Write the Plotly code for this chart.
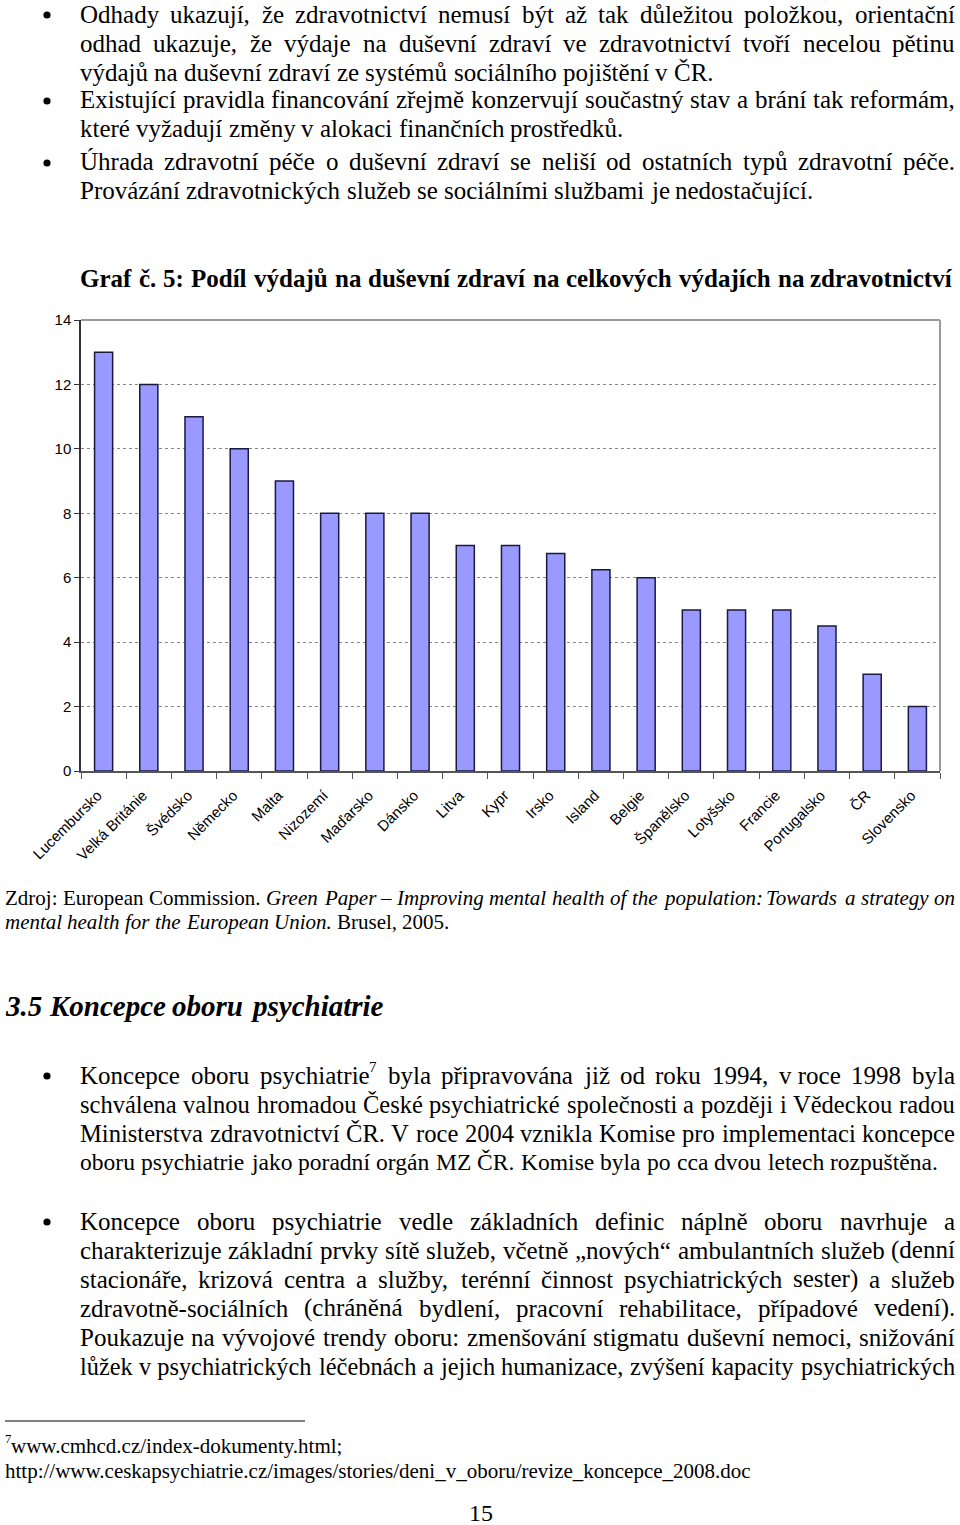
import re
import unicodedata
import plotly.graph_objects as go

# ---------------- data ----------------
countries = ["Lucembursko", "Velká Británie", "Švédsko", "Německo", "Malta", "Nizozemí",
             "Maďarsko", "Dánsko", "Litva", "Kypr", "Irsko", "Island", "Belgie",
             "Španělsko", "Lotyšsko", "Francie", "Portugalsko", "ČR", "Slovensko"]
shares = [13, 12, 11, 10, 9, 8, 8, 8, 7, 7, 6.75, 6.25, 6, 5, 5, 5, 4.5, 3, 2]
y_ticks = [0, 2, 4, 6, 8, 10, 12, 14]

chart_title = "Graf č. 5: Podíl výdajů na duševní zdraví na celkových výdajích na zdravotnictví"

# (text, right edge for justification or None, bullet)
block1 = [
    ("Odhady ukazují, že zdravotnictví nemusí být až tak důležitou položkou, orientační", 955, True),
    ("odhad ukazuje, že výdaje na duševní zdraví ve zdravotnictví tvoří necelou pětinu", 955, False),
    ("výdajů na duševní zdraví ze systémů sociálního pojištění v ČR.", None, False),
    ("Existující pravidla financování zřejmě konzervují součastný stav a brání tak reformám,", 955, True),
    ("které vyžadují změny v alokaci finančních prostředků.", None, False),
    ("Úhrada zdravotní péče o duševní zdraví se neliší od ostatních typů zdravotní péče.", 955, True),
    ("Provázání zdravotnických služeb se sociálními službami je nedostačující.", None, False),
]
block2 = [
    ("Koncepce oboru psychiatrie^7 byla připravována již od roku 1994, v\u00a0roce 1998 byla", 955, True),
    ("schválena valnou hromadou České psychiatrické společnosti a později i Vědeckou radou", 955, False),
    ("Ministerstva zdravotnictví ČR. V roce 2004 vznikla Komise pro implementaci koncepce", 955, False),
    ("oboru psychiatrie jako poradní orgán MZ ČR. Komise byla po cca dvou letech rozpuštěna.", 938, False),
    ("Koncepce oboru psychiatrie vedle základních definic náplně oboru navrhuje a", 955, True),
    ("charakterizuje základní prvky sítě služeb, včetně „nových“ ambulantních služeb (denní", 955, False),
    ("stacionáře, krizová centra a služby, terénní činnost psychiatrických sester) a služeb", 955, False),
    ("zdravotně-sociálních (chráněná bydlení, pracovní rehabilitace, případové vedení).", 955, False),
    ("Poukazuje na vývojové trendy oboru: zmenšování stigmatu duševní nemoci, snižování", 955, False),
    ("lůžek v\u00a0psychiatrických léčebnách a jejich humanizace, zvýšení kapacity psychiatrických", 955, False),
]
source_line1 = [("Zdroj:", "r"), ("European", "r"), ("Commission.", "r"), ("Green", "i"), ("Paper", "i"),
                ("–", "i"), ("Improving", "i"), ("mental", "i"), ("health", "i"), ("of", "i"), ("the", "i"),
                ("population:", "i"), ("Towards", "i"), ("a", "i"), ("strategy", "i"), ("on", "i")]
source_line2 = [("mental", "i"), ("health", "i"), ("for", "i"), ("the", "i"), ("European", "i"),
                ("Union.", "i"), ("Brusel,", "r"), ("2005.", "r")]
heading = "3.5 Koncepce oboru psychiatrie"
footnote1 = "^7www.cmhcd.cz/index-dokumenty.html;"
footnote2 = "http://www.ceskapsychiatrie.cz/images/stories/deni_v_oboru/revize_koncepce_2008.doc"
page_no = "15"

# ---------------- font metrics (Times / Liberation Serif) ----------------
low = "abcdefghijklmnopqrstuvwxyz"
up = "ABCDEFGHIJKLMNOPQRSTUVWXYZ"
PUNCT = {" ": 250, "\u00a0": 250, ".": 250, ",": 250, ":": 278, ";": 278, "-": 333, "(": 333, ")": 333,
         "/": 278, "_": 500, "–": 500, "„": 444, "“": 444, "\"": 408}
REG = dict(zip(low, [444, 500, 444, 500, 444, 333, 500, 500, 278, 278, 500, 278, 778, 500, 500, 500, 500, 333, 389, 278, 500, 500, 722, 500, 500, 444]))
REG.update(zip(up, [722, 667, 667, 722, 611, 556, 722, 722, 333, 389, 722, 611, 889, 722, 722, 556, 722, 667, 556, 611, 722, 722, 944, 722, 722, 611]))
ITA = dict(zip(low, [500, 500, 444, 500, 444, 278, 500, 500, 278, 278, 444, 278, 722, 500, 500, 500, 500, 389, 389, 278, 500, 444, 667, 444, 444, 389]))
ITA.update(zip(up, [611, 611, 667, 722, 611, 611, 722, 722, 333, 444, 667, 556, 833, 667, 722, 611, 722, 611, 500, 556, 722, 611, 833, 611, 556, 556]))
BOLD = dict(zip(low, [500, 556, 444, 556, 444, 333, 500, 556, 278, 333, 556, 278, 833, 556, 500, 556, 556, 444, 389, 333, 556, 500, 722, 500, 500, 444]))
BOLD.update(zip(up, [722, 667, 722, 722, 667, 611, 778, 778, 389, 500, 778, 667, 944, 722, 778, 611, 778, 722, 556, 667, 722, 722, 1000, 722, 722, 667]))
BI = dict(zip(low, [500, 500, 444, 500, 444, 333, 500, 556, 278, 278, 500, 278, 778, 556, 500, 500, 500, 389, 389, 278, 556, 444, 667, 500, 444, 389]))
BI.update(zip(up, [667, 667, 667, 722, 667, 667, 722, 778, 389, 500, 667, 611, 889, 722, 722, 611, 722, 667, 556, 611, 722, 667, 889, 667, 611, 611]))
TABLES = {"r": REG, "i": ITA, "b": BOLD, "bi": BI}
for t in TABLES.values():
    t.update(PUNCT)
    for d in "0123456789":
        t[d] = 500
ITA[":"] = 333
BOLD[":"] = 333

SUP_SCALE = 0.6


def plain_width(text, style, size):
    tab = TABLES[style]
    tot = 0
    for ch in text:
        if ch not in tab:
            ch = unicodedata.normalize("NFD", ch)[0]
        tot += tab.get(ch, 500)
    return tot * size / 1000.0


def split_sup(word):
    m = re.match(r"^(.*?)\^(\d+)(.*)$", word)
    if m:
        return m.group(1), m.group(2), m.group(3)
    return word, "", ""


def measure(word, style, size):
    a, s, b = split_sup(word)
    return (plain_width(a, style, size) + plain_width(s, style, size * SUP_SCALE)
            + plain_width(b, style, size))


W, H = 960, 1525
annotations = []
shapes = []


def styled(word, style):
    if style == "i":
        return "<i>" + word + "</i>"
    if style == "b":
        return "<b>" + word + "</b>"
    if style == "bi":
        return "<b><i>" + word + "</i></b>"
    return word


def add_text(text, x, y, size, anchor="left"):
    annotations.append(dict(x=x / W, y=1 - y / H, xref="paper", yref="paper", xanchor=anchor,
                            yanchor="middle", text=text, showarrow=False, borderpad=0, borderwidth=0,
                            font=dict(family="Liberation Serif", size=size, color="black")))


def add_word(word, style, x, y, size):
    a, s, b = split_sup(word)
    if not s:
        add_text(styled(word, style), x, y, size)
        return
    if a:
        add_text(styled(a, style), x, y, size)
    x += plain_width(a, style, size)
    add_text(styled(s, style), x, y - 0.33 * size, size * SUP_SCALE)
    x += plain_width(s, style, size * SUP_SCALE)
    if b:
        add_text(styled(b, style), x, y, size)


def place_line(tokens, x0, y, size, x1=None):
    widths = [measure(w, s, size) for w, s in tokens]
    n = len(tokens)
    if x1 is not None and n > 1:
        gap = (x1 - x0 - sum(widths)) / (n - 1)
    else:
        gap = 250 * size / 1000.0
    x = x0
    for i, ((w, s), wd) in enumerate(zip(tokens, widths)):
        if x1 is not None and n > 1 and i == n - 1 and "^" not in w:
            add_text(styled(w, s), x1, y, size, anchor="right")
        else:
            add_word(w, s, x, y, size)
        x += wd + gap


def words(line, style="r"):
    return [(w, style) for w in line.split(" ")]


BODY = 25
LEFT = 80


def bullet(y):
    r = 3.6
    shapes.append(dict(type="circle", xref="paper", yref="paper",
                       x0=(47 - r) / W, x1=(47 + r) / W, y0=1 - (y + 1 + r) / H, y1=1 - (y + 1 - r) / H,
                       fillcolor="black", line=dict(width=0)))


def fit_size(line, right):
    # shrink a line slightly if its natural width overflows its right edge
    natural = sum(measure(w, s, BODY) for w, s in words(line)) + 250 * BODY / 1000.0 * (len(line.split(" ")) - 1)
    if right is not None and natural > right - LEFT:
        return BODY * (right - LEFT) / natural * 0.995
    return BODY


# block 1
ys1 = [14, 43, 72, 100, 129, 162, 191]
for (line, right, has_bullet), y in zip(block1, ys1):
    if has_bullet:
        bullet(y)
    place_line(words(line), LEFT, y, fit_size(line, right), right)

# chart title
place_line(words(chart_title, "b"), 80, 279, BODY, 953)

# source
place_line(source_line1, 5, 898, 21, 955)
place_line(source_line2, 5, 922, 21, None)

# heading
place_line(words(heading, "bi"), 5, 1006, 29, None)

# block 2
ys2 = [1075, 1104, 1133, 1162, 1221, 1250, 1279, 1308, 1337, 1366]
for (line, right, has_bullet), y in zip(block2, ys2):
    if has_bullet:
        bullet(y)
    place_line(words(line), LEFT, y, fit_size(line, right), right)

# footnotes
add_word(footnote1, "r", 5, 1446, 21)
add_text(footnote2, 5, 1471, 21)
add_text(page_no, 481, 1513, 24, anchor="center")

# ---------------- chart ----------------
fig = go.Figure()
fig.add_trace(go.Bar(
    x=countries, y=shares, width=0.4,
    marker=dict(color="#9999FF", line=dict(color="#1a1a40", width=1.5)),
    hoverinfo="x+y",
))

y_bottom, y_top = 771, 320
x_left, x_right = 81, 940

shapes += [
    dict(type="line", xref="x domain", yref="y domain", x0=0, x1=1, y0=1, y1=1,
         line=dict(color="#9a9a9a", width=2)),
    dict(type="line", xref="x domain", yref="y domain", x0=1, x1=1, y0=0, y1=1,
         line=dict(color="#9a9a9a", width=2)),
    dict(type="line", xref="paper", yref="paper", x0=5 / W, x1=305 / W,
         y0=1 - 1421 / H, y1=1 - 1421 / H, line=dict(color="black", width=1)),
]

fig.update_layout(
    width=W, height=H,
    margin=dict(l=0, r=0, t=0, b=0, autoexpand=False),
    paper_bgcolor="white", plot_bgcolor="white",
    showlegend=False,
    xaxis=dict(
        domain=[x_left / W, x_right / W], type="category", automargin=False,
        tickangle=-45, tickfont=dict(family="Liberation Sans", size=15, color="black"),
        ticks="outside", tickson="boundaries", ticklen=6, tickcolor="#555", tickwidth=1,
        ticklabelstandoff=8, ticklabelshift=-6,
        showline=True, linecolor="#555", linewidth=1.5, showgrid=False, fixedrange=True,
    ),
    yaxis=dict(
        domain=[1 - y_bottom / H, 1 - y_top / H], range=[0, 14], tickvals=y_ticks, automargin=False,
        tickfont=dict(family="Liberation Sans", size=15, color="black"),
        ticks="outside", ticklen=5, tickcolor="#333", tickwidth=1,
        showline=True, linecolor="#333", linewidth=1.5,
        showgrid=True, gridcolor="#888", griddash="dot", gridwidth=1,
        zeroline=False, fixedrange=True,
    ),
    annotations=annotations,
    shapes=shapes,
)

fig.write_html("out.html", config={"displayModeBar": False},
               post_script="document.body.style.margin='0';document.body.style.padding='0';")
